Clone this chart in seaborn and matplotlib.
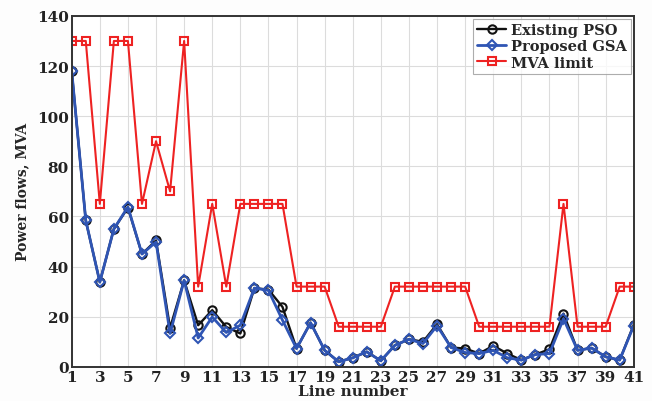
import matplotlib
matplotlib.use("Agg")
import matplotlib.pyplot as plt
import seaborn as sns
import numpy as np
import pandas as pd

lines = list(range(1, 42))
pso = [118, 58.4, 33.8, 55, 63.5, 45, 50.4, 15.5, 34.5, 16.6,
       22.6, 15.9, 13.3, 31.4, 30.8, 23.9, 7.3, 17.6, 6.6, 2.0,
       3.6, 6.0, 2.4, 8.6, 11.0, 10.0, 17.0, 7.7, 7.3, 5.3,
       8.4, 5.3, 2.7, 4.9, 7.0, 21.2, 6.6, 7.5, 4.0, 2.7, 16.8]
gsa = [118, 58.4, 33.8, 55, 63.8, 45, 49.8, 13.3, 34.5, 11.5,
       19.9, 13.7, 16.6, 31.4, 30.5, 18.6, 7.3, 17.6, 6.6, 2.0,
       3.6, 6.0, 2.4, 8.6, 11.0, 9.3, 16.4, 7.7, 5.7, 5.3,
       6.6, 3.6, 2.7, 4.9, 5.3, 19.2, 6.6, 7.5, 4.0, 2.7, 16.4]
mva = [130, 130, 65, 130, 130, 65, 90, 70, 130, 32,
       65, 32, 65, 65, 65, 65, 32, 32, 32, 16,
       16, 16, 16, 32, 32, 32, 32, 32, 32, 16,
       16, 16, 16, 16, 16, 65, 16, 16, 16, 32, 32]
xticks = list(range(1, 42, 2))
yticks = list(range(0, 141, 20))

sns.set_style("whitegrid")
plt.rcParams["font.family"] = ["DejaVu Serif"]
plt.rcParams["font.weight"] = "bold"

fig = plt.figure(figsize=(6.52, 4.02), dpi=100)
fig.patch.set_facecolor("#fdfdfd")
ax = fig.add_axes([0.110, 0.085, 0.862, 0.873])

df = pd.DataFrame({"line": lines, "Existing PSO": pso,
                   "Proposed GSA": gsa, "MVA limit": mva})

styles = [
    ("Existing PSO", "#111111", "o", 1.7, 6.0),
    ("Proposed GSA", "#2f55b4", "D", 2.0, 5.0),
    ("MVA limit", "#ee2222", "s", 1.5, 5.5),
]
for name, color, marker, lw, ms in styles:
    sns.lineplot(data=df, x="line", y=name, ax=ax, color=color, lw=lw,
                 marker=marker, markersize=ms, markerfacecolor="none",
                 markeredgecolor=color, markeredgewidth=1.5, label=name)

ax.set_xlim(1, 41)
ax.set_ylim(0, 140)
ax.set_xticks(xticks)
ax.set_yticks(yticks)
ax.tick_params(axis="both", direction="in", length=4, width=1.2,
               labelsize=11, pad=2, colors="#222222")
for lab in ax.get_xticklabels() + ax.get_yticklabels():
    lab.set_fontweight("bold")
ax.grid(True, color="#dcdcdc", lw=0.8)
ax.set_facecolor("white")
for s in ax.spines.values():
    s.set_color("#333333")
    s.set_linewidth(1.4)

ax.set_xlabel("Line number", fontsize=11, fontweight="bold", labelpad=0)
ax.set_ylabel("Power flows, MVA", fontsize=10, fontweight="bold", labelpad=6)

leg = ax.legend(loc="upper right", fontsize=10.5, frameon=True, fancybox=False,
                borderpad=0.3, handlelength=2.0, handletextpad=0.3,
                labelspacing=0.15, borderaxespad=0.2)
leg.get_frame().set_edgecolor("#999999")
leg.get_frame().set_linewidth(0.8)
for t in leg.get_texts():
    t.set_fontweight("bold")

fig.savefig("out.png", dpi=100, facecolor=fig.get_facecolor())
